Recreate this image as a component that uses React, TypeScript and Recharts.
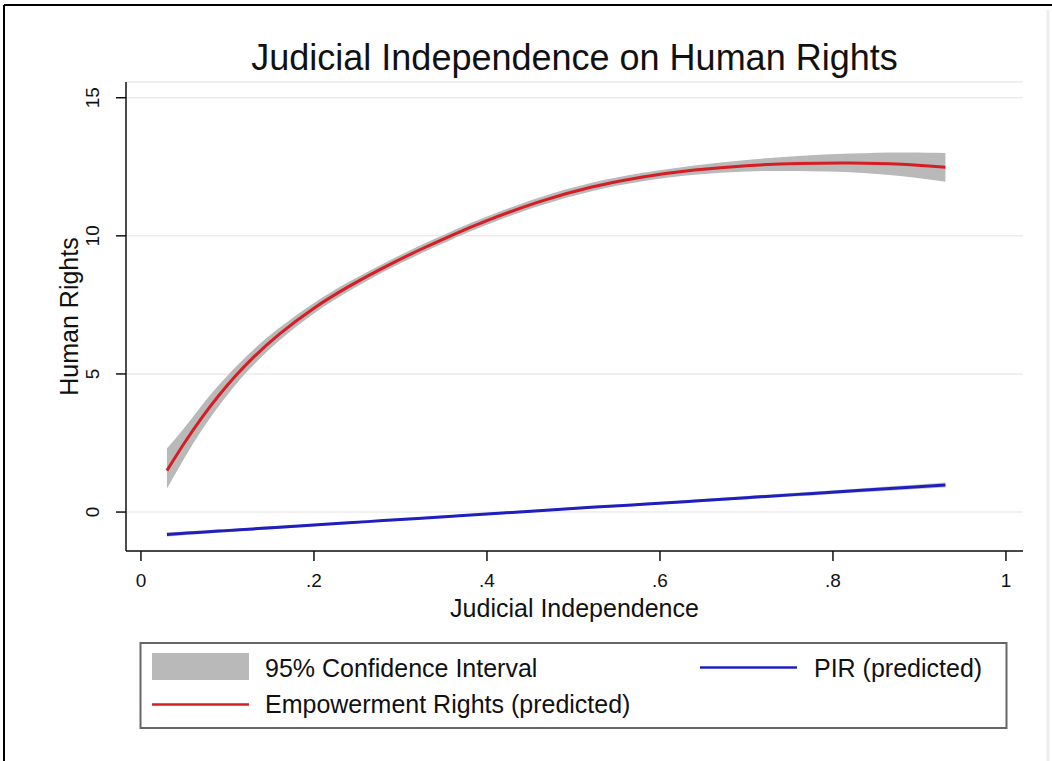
import React from 'react';
import { ComposedChart, Area, Line, XAxis, YAxis, CartesianGrid } from 'recharts';

const judicialIndependence = [0.03, 0.05, 0.07, 0.09, 0.11, 0.13, 0.16, 0.2, 0.24, 0.28, 0.32, 0.36, 0.4, 0.46, 0.52, 0.58, 0.64, 0.7, 0.76, 0.82, 0.88, 0.93];
const empowermentRights = [1.5, 2.49, 3.4, 4.22, 4.95, 5.6, 6.44, 7.38, 8.16, 8.84, 9.46, 10.03, 10.55, 11.23, 11.76, 12.13, 12.38, 12.54, 12.62, 12.64, 12.59, 12.48];
const empowermentLow = [0.85, 1.94, 2.95, 3.84, 4.63, 5.32, 6.21, 7.19, 7.99, 8.69, 9.31, 9.88, 10.4, 11.08, 11.61, 11.98, 12.21, 12.33, 12.35, 12.3, 12.16, 11.96];
const empowermentHigh = [2.3, 3.04, 3.85, 4.6, 5.27, 5.88, 6.67, 7.57, 8.33, 8.99, 9.61, 10.18, 10.7, 11.38, 11.91, 12.28, 12.55, 12.75, 12.89, 12.98, 13.02, 13.0];
const pirPredicted = [-0.81, -0.77, -0.73, -0.69, -0.65, -0.61, -0.55, -0.47, -0.39, -0.31, -0.23, -0.15, -0.07, 0.05, 0.17, 0.28, 0.4, 0.52, 0.64, 0.76, 0.88, 0.98];
const pirLow = [-0.89, -0.84, -0.79, -0.75, -0.7, -0.66, -0.6, -0.51, -0.43, -0.35, -0.27, -0.19, -0.11, 0.01, 0.13, 0.24, 0.35, 0.46, 0.57, 0.69, 0.8, 0.89];
const pirHigh = [-0.73, -0.7, -0.67, -0.63, -0.6, -0.56, -0.5, -0.43, -0.35, -0.27, -0.19, -0.11, -0.03, 0.09, 0.21, 0.32, 0.45, 0.58, 0.71, 0.83, 0.96, 1.07];

const xTicks = [0, 0.2, 0.4, 0.6, 0.8, 1];
const xTickLabels = ['0', '.2', '.4', '.6', '.8', '1'];
const yTicks = [0, 5, 10, 15];
const yTickLabels = ['0', '5', '10', '15'];

const chartTitle = 'Judicial Independence on Human Rights';
const xTitle = 'Judicial Independence';
const yTitle = 'Human Rights';
const legendLabels = ['95% Confidence Interval', 'Empowerment Rights (predicted)', 'PIR (predicted)'];

const data = judicialIndependence.map((x, i) => ({
  x,
  er: empowermentRights[i],
  erBand: [empowermentLow[i], empowermentHigh[i]],
  pir: pirPredicted[i],
  pirBand: [pirLow[i], pirHigh[i]],
}));

const FONT = '"Liberation Sans", Arial, Helvetica, sans-serif';
const RED = '#d41e24';
const BLUE = '#1f1fbe';
const BAND = '#b9b9b9';

const XTick = (props: any) => {
  const { x, y, payload } = props;
  const idx = xTicks.indexOf(payload.value);
  return (
    <text x={x} y={y + 24} textAnchor="middle" fontFamily={FONT} fontSize={19} fill="#111">
      {idx >= 0 ? xTickLabels[idx] : String(payload.value)}
    </text>
  );
};

const YTick = (props: any) => {
  const { x, y, payload } = props;
  const idx = yTicks.indexOf(payload.value);
  const cx = x - 15;
  return (
    <text x={cx} y={y} textAnchor="middle" transform={`rotate(-90 ${cx} ${y})`} fontFamily={FONT} fontSize={19} fill="#111">
      {idx >= 0 ? yTickLabels[idx] : String(payload.value)}
    </text>
  );
};

export default function App() {
  return (
    <div style={{ position: 'absolute', left: 0, top: 0, width: 1052, height: 761, background: '#fff', overflow: 'hidden' }}>
      <div style={{ position: 'absolute', left: 0, top: 0 }}>
        <ComposedChart
          width={1052}
          height={761}
          data={data}
          margin={{ top: 82, right: 29, left: 66, bottom: 170 }}
        >
          <CartesianGrid horizontal={true} vertical={false} stroke="#ebebeb" strokeWidth={1.5} />
          <XAxis
            dataKey="x"
            type="number"
            domain={[-0.0173, 1.0197]}
            ticks={xTicks}
            allowDataOverflow={true}
            height={40}
            tickSize={10}
            tickMargin={2}
            axisLine={{ stroke: '#111', strokeWidth: 1.5 }}
            tickLine={{ stroke: '#111', strokeWidth: 1.5 }}
            tick={<XTick />}
            interval={0}
          />
          <YAxis
            type="number"
            domain={[-1.41, 15.57]}
            ticks={yTicks}
            allowDataOverflow={true}
            width={60}
            tickSize={10}
            tickMargin={2}
            axisLine={{ stroke: '#111', strokeWidth: 1.5 }}
            tickLine={{ stroke: '#111', strokeWidth: 1.5 }}
            tick={<YTick />}
            interval={0}
          />
          <Area dataKey="erBand" type="natural" stroke="none" fill={BAND} fillOpacity={1} isAnimationActive={false} dot={false} activeDot={false} />
          <Area dataKey="pirBand" type="natural" stroke="none" fill={BAND} fillOpacity={0.8} isAnimationActive={false} dot={false} activeDot={false} />
          <Line dataKey="er" type="natural" stroke={RED} strokeWidth={3} dot={false} activeDot={false} isAnimationActive={false} />
          <Line dataKey="pir" type="natural" stroke={BLUE} strokeWidth={3} dot={false} activeDot={false} isAnimationActive={false} />
        </ComposedChart>
      </div>
      <svg width={1052} height={761} style={{ position: 'absolute', left: 0, top: 0, pointerEvents: 'none' }}>
        <line x1={4} y1={5} x2={1052} y2={5} stroke="#000" strokeWidth={2} />
        <line x1={4} y1={5} x2={4} y2={761} stroke="#000" strokeWidth={2} />
        <line x1={1048} y1={10} x2={1048} y2={761} stroke="#eeeeee" strokeWidth={3} />
        <text x={574.5} y={70} textAnchor="middle" fontFamily={FONT} fontSize={36} fill="#111">{chartTitle}</text>
        <text x={574.5} y={617} textAnchor="middle" fontFamily={FONT} fontSize={25} fill="#111">{xTitle}</text>
        <text x={78} y={316.5} textAnchor="middle" transform="rotate(-90 78 316.5)" fontFamily={FONT} fontSize={25} fill="#111">{yTitle}</text>
        <rect x={140.5} y={643} width={866} height={85} fill="#fff" stroke="#666" strokeWidth={2} />
        <rect x={152} y={653} width={97} height={27} fill={BAND} />
        <text x={265} y={677} fontFamily={FONT} fontSize={25} fill="#111">{legendLabels[0]}</text>
        <line x1={152} y1={704.5} x2={249} y2={704.5} stroke={RED} strokeWidth={2.5} />
        <text x={265} y={713} fontFamily={FONT} fontSize={25} fill="#111">{legendLabels[1]}</text>
        <line x1={700} y1={667.5} x2={797} y2={667.5} stroke={BLUE} strokeWidth={2.5} />
        <text x={814} y={677} fontFamily={FONT} fontSize={25} fill="#111">{legendLabels[2]}</text>
      </svg>
    </div>
  );
}
